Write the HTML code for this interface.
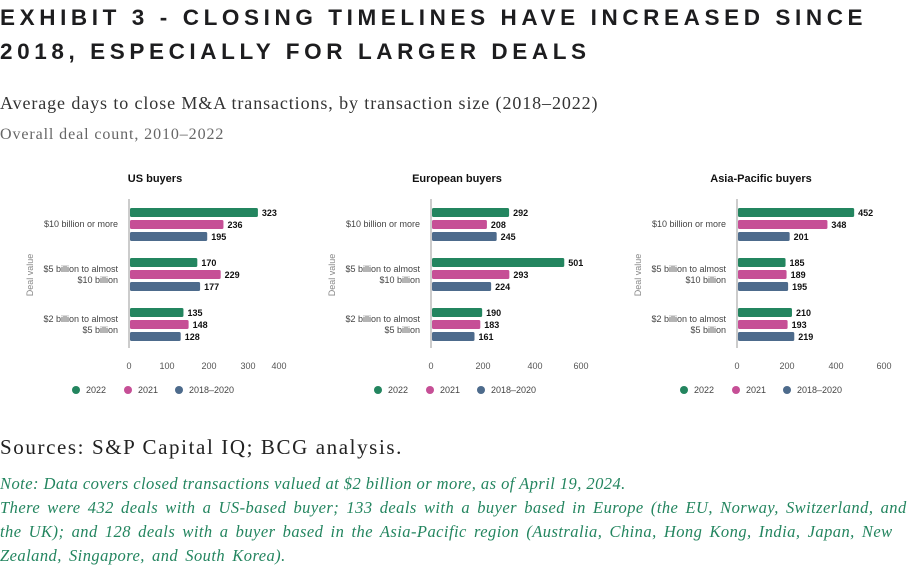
<!DOCTYPE html><html><head><meta charset="utf-8"><style>
body{margin:0;background:#fff;width:921px;height:569px;overflow:hidden;position:relative;font-family:"Liberation Sans",sans-serif}
.t{position:absolute;left:0;top:1px;font-size:22.5px;font-weight:bold;letter-spacing:4.6px;line-height:34px;color:#1d1d1f;white-space:nowrap}
.s{position:absolute;left:0;font-family:"Liberation Serif",serif;color:#333;white-space:nowrap}
</style></head><body>
<div class="t">EXHIBIT 3 - CLOSING TIMELINES HAVE INCREASED SINCE<br>2018, ESPECIALLY FOR LARGER DEALS</div>
<div class="s" style="top:93px;font-size:18px;letter-spacing:0.9px">Average days to close M&amp;A transactions, by transaction size (2018–2022)</div>
<div class="s" style="top:126px;font-size:16px;letter-spacing:0.9px;color:#666">Overall deal count, 2010–2022</div>
<svg width="921" height="569" style="position:absolute;left:0;top:0" font-family="Liberation Sans,sans-serif">
<g id="c" font-size="9" fill="#444"></g>
</svg>
<div class="s" style="top:435px;font-size:21px;letter-spacing:1.6px;color:#222">Sources: S&amp;P Capital IQ; BCG analysis.</div>
<div class="s" style="top:472px;font-size:16.5px;letter-spacing:0.45px;font-style:italic;color:#23855f;line-height:24px;width:921px">Note: Data covers closed transactions valued at $2 billion or more, as of April 19, 2024.<br><span style="word-spacing:2.6px">There were 432 deals with a US-based buyer; 133 deals with a buyer based in Europe (the EU, Norway, Switzerland, and<br>the UK); and 128 deals with a buyer based in the Asia-Pacific region (Australia, China, Hong Kong, India, Japan, New<br>Zealand, Singapore, and South Korea).</span></div>
<script>
var charts=[
{t:"US buyers",tx:155,ox:0,ax:129,sc:0.396,v:[[323,236,195],[170,229,177],[135,148,128]],tk:[[0,129],[100,167],[200,209],[300,248],[400,279]]},
{t:"European buyers",tx:457,ox:302,ax:431,sc:0.264,v:[[292,208,245],[501,293,224],[190,183,161]],tk:[[0,431],[200,483],[400,535],[600,581]]},
{t:"Asia-Pacific buyers",tx:761,ox:608,ax:737,sc:0.257,v:[[452,348,201],[185,189,195],[210,193,219]],tk:[[0,737],[200,787],[400,836],[600,884]]}];
var col=["#23855f","#c64f96","#4d6b8c"],gy=[208,258,308],s="";
var labs=[["$10 billion or more"],["$5 billion to almost","$10 billion"],["$2 billion to almost","$5 billion"]];
charts.forEach(function(c){
s+='<text x="'+c.tx+'" y="182" font-size="11" font-weight="bold" fill="#111" text-anchor="middle">'+c.t+'</text>';
s+='<line x1="'+c.ax+'" y1="199" x2="'+c.ax+'" y2="348" stroke="#999" stroke-width="1"/>';
s+='<text transform="translate('+(c.ox+33)+',275) rotate(-90)" font-size="9" fill="#888" text-anchor="middle">Deal value</text>';
for(var g=0;g<3;g++){
 var L=labs[g],yc=gy[g]+16;
 if(L.length==1)s+='<text x="'+(c.ox+118)+'" y="'+(yc+3)+'" text-anchor="end">'+L[0]+'</text>';
 else{s+='<text x="'+(c.ox+118)+'" y="'+(yc-2)+'" text-anchor="end">'+L[0]+'</text><text x="'+(c.ox+118)+'" y="'+(yc+9)+'" text-anchor="end">'+L[1]+'</text>';}
 for(var b=0;b<3;b++){var y=gy[g]+b*12,w=c.v[g][b]*c.sc;
 s+='<rect x="'+(c.ax+1)+'" y="'+y+'" width="'+w+'" height="9" rx="1.5" fill="'+col[b]+'"/>';
 s+='<text x="'+(c.ax+w+5)+'" y="'+(y+8)+'" font-weight="bold" fill="#111">'+c.v[g][b]+'</text>';}
}
c.tk.forEach(function(k){s+='<text x="'+k[1]+'" y="369" text-anchor="middle" fill="#555">'+k[0]+'</text>';});
var lx=c.ox+76,names=["2022","2021","2018–2020"],off=[0,52,103];
for(var i=0;i<3;i++){s+='<circle cx="'+(lx+off[i])+'" cy="390" r="4" fill="'+col[i]+'"/><text x="'+(lx+off[i]+10)+'" y="393" fill="#444">'+names[i]+'</text>';}
});
document.getElementById("c").innerHTML=s;
</script>
</body></html>
